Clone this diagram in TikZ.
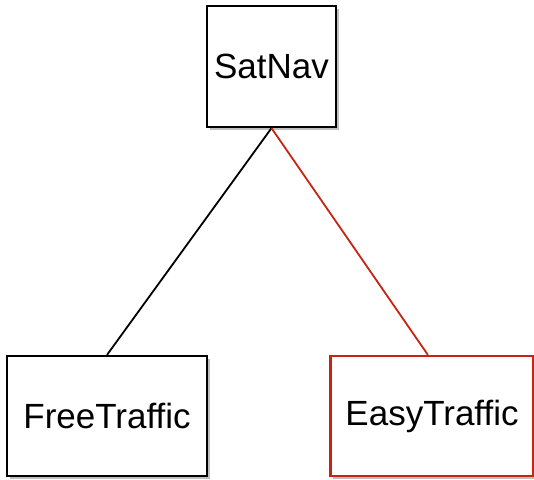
\documentclass[tikz,border=0pt]{standalone}
\usepackage{fontspec}
\setmainfont{Liberation Sans}
\usetikzlibrary{shadows,calc}
\usepackage{xcolor}
\definecolor{linkred}{RGB}{200,36,20}

\begin{document}
\begin{tikzpicture}[x=1pt,y=-1pt]
\tikzstyle{mod} = [draw,line width=2.2pt,fill=white,font=\fontsize{35}{38}\selectfont,
            drop shadow={shadow xshift=2.5pt,shadow yshift=-3pt,opacity=0.5}];

    \useasboundingbox (0,0) rectangle (534,479);

    \node (sat) at (271.5,66.5) [mod, minimum width=129pt, minimum height=121pt] {SatNav};
    \node (free) at (107,416) [mod, minimum width=200pt, minimum height=120pt] {FreeTraffic};
    \node (easy) at (432,416) [mod, draw=linkred, minimum width=203pt, minimum height=120pt] {EasyTraffic};

    \draw[line width=1.8pt] (sat.south) -- (free.north);
    \draw[line width=1.8pt, linkred] (sat.south) -- ($(easy.north west)!0.48!(easy.north east)$);

\end{tikzpicture}
\end{document}
